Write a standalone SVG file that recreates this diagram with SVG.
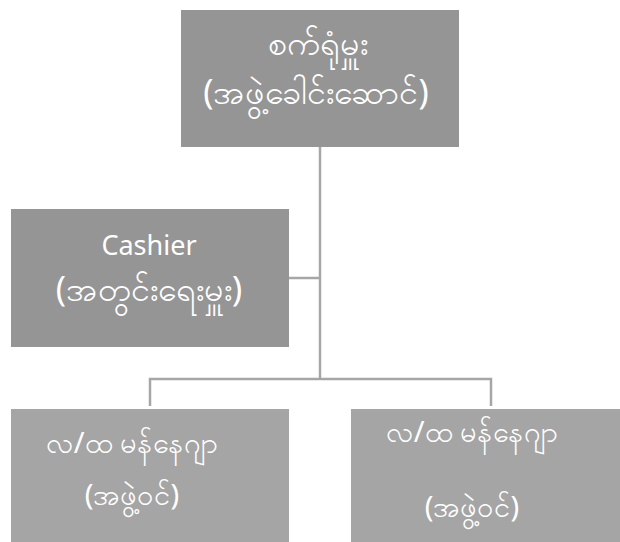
<svg xmlns="http://www.w3.org/2000/svg" width="620" height="542" viewBox="0 0 620 542">
<style>
.dark{fill:#959595}
.light{fill:#a5a5a5}
.t{fill:#ffffff;font-family:"Noto Sans","DejaVu Sans",sans-serif;font-size:27px;text-anchor:middle}
.m{font-size:34px}
.b{font-size:29px}
.c{stroke:#a6a6a6;stroke-width:2.5;fill:none}
</style>
<rect width="620" height="542" fill="#ffffff"/>
<g id="connectors">
<path class="c" d="M320 147 V379"/>
<path class="c" d="M289 278 H320"/>
<path class="c" d="M150 406 V379 H491 V406"/>
</g>
<g id="node-top">
<rect class="dark" x="181" y="10" width="278" height="137"/>
<text class="t m" x="318" y="55">စက်ရုံမှူး</text>
<text class="t m" x="316" y="104">(အဖွဲ့ခေါင်းဆောင်)</text>
</g>
<g id="node-cashier">
<rect class="dark" x="11" y="209" width="278" height="138"/>
<text class="t" x="149" y="255">Cashier</text>
<text class="t m" x="149" y="301">(အတွင်းရေးမှူး)</text>
</g>
<g id="node-left">
<rect class="light" x="11" y="409" width="278" height="133"/>
<text class="t b" x="132" y="453">လ/ထ မန်နေဂျာ</text>
<text class="t b" x="132" y="505">(အဖွဲ့ဝင်)</text>
</g>
<g id="node-right">
<rect class="light" x="351" y="409" width="278" height="133"/>
<text class="t b" x="472" y="442">လ/ထ မန်နေဂျာ</text>
<text class="t b" x="472" y="517">(အဖွဲ့ဝင်)</text>
</g>
</svg>
